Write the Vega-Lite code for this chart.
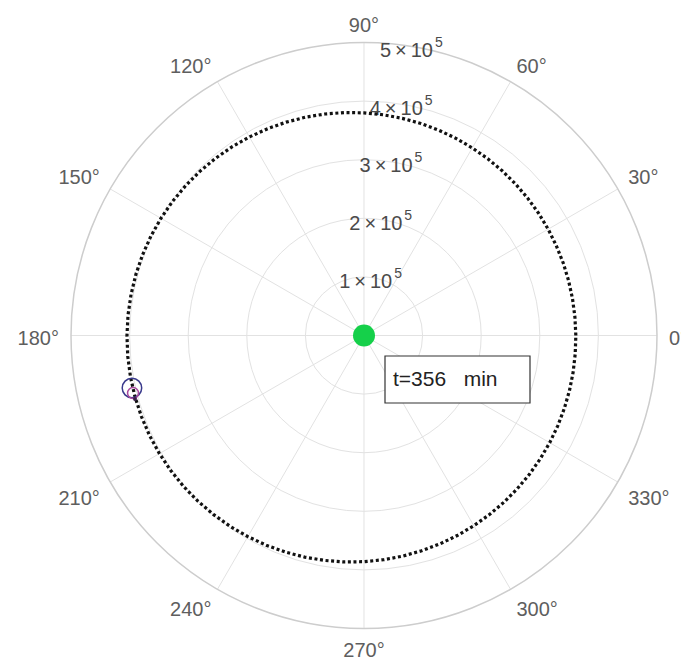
{
  "$schema": "https://vega.github.io/schema/vega-lite/v6.json",
  "width": 681,
  "height": 669,
  "padding": 0,
  "autosize": "none",
  "background": "white",
  "config": {"view": {"stroke": null}, "text": {"font": "Liberation Sans"}},
  "datasets": {
    "rings": [
      {"r": 100000, "m": "1\u2009×\u200910", "e": "5"},
      {"r": 200000, "m": "2\u2009×\u200910", "e": "5"},
      {"r": 300000, "m": "3\u2009×\u200910", "e": "5"},
      {"r": 400000, "m": "4\u2009×\u200910", "e": "5"},
      {"r": 500000, "m": "5\u2009×\u200910", "e": "5"}
    ],
    "angles": [
      {"a": 0, "t": "0°"}, {"a": 30, "t": "30°"}, {"a": 60, "t": "60°"},
      {"a": 90, "t": "90°"}, {"a": 120, "t": "120°"}, {"a": 150, "t": "150°"},
      {"a": 180, "t": "180°"}, {"a": 210, "t": "210°"}, {"a": 240, "t": "240°"},
      {"a": 270, "t": "270°"}, {"a": 300, "t": "300°"}, {"a": 330, "t": "330°"}
    ],
    "orbit": [
      {"a": 0, "r": 361500}, {"a": 5, "r": 361300}, {"a": 10, "r": 361300}, {"a": 15, "r": 361450},
      {"a": 20, "r": 361800}, {"a": 25, "r": 362200}, {"a": 30, "r": 362900}, {"a": 35, "r": 363700},
      {"a": 40, "r": 364600}, {"a": 45, "r": 365700}, {"a": 50, "r": 366900}, {"a": 55, "r": 368200},
      {"a": 60, "r": 369650}, {"a": 65, "r": 371200}, {"a": 70, "r": 372800}, {"a": 75, "r": 374500},
      {"a": 80, "r": 376300}, {"a": 85, "r": 378100}, {"a": 90, "r": 380000}, {"a": 95, "r": 381900},
      {"a": 100, "r": 383800}, {"a": 105, "r": 385700}, {"a": 110, "r": 387500}, {"a": 115, "r": 389400},
      {"a": 120, "r": 391150}, {"a": 125, "r": 392900}, {"a": 130, "r": 394500}, {"a": 135, "r": 396100},
      {"a": 140, "r": 397500}, {"a": 145, "r": 398900}, {"a": 150, "r": 400100}, {"a": 155, "r": 401200},
      {"a": 160, "r": 402200}, {"a": 165, "r": 403000}, {"a": 170, "r": 403650}, {"a": 175, "r": 404200},
      {"a": 180, "r": 404500}, {"a": 185, "r": 404700}, {"a": 190, "r": 404700}, {"a": 195, "r": 404550},
      {"a": 200, "r": 404200}, {"a": 205, "r": 403800}, {"a": 210, "r": 403100}, {"a": 215, "r": 402300},
      {"a": 220, "r": 401400}, {"a": 225, "r": 400300}, {"a": 230, "r": 399100}, {"a": 235, "r": 397800},
      {"a": 240, "r": 396350}, {"a": 245, "r": 394800}, {"a": 250, "r": 393200}, {"a": 255, "r": 391500},
      {"a": 260, "r": 389700}, {"a": 265, "r": 387900}, {"a": 270, "r": 386000}, {"a": 275, "r": 384100},
      {"a": 280, "r": 382200}, {"a": 285, "r": 380300}, {"a": 290, "r": 378500}, {"a": 295, "r": 376600},
      {"a": 300, "r": 374850}, {"a": 305, "r": 373100}, {"a": 310, "r": 371500}, {"a": 315, "r": 369900},
      {"a": 320, "r": 368500}, {"a": 325, "r": 367100}, {"a": 330, "r": 365900}, {"a": 335, "r": 364800},
      {"a": 340, "r": 363800}, {"a": 345, "r": 363000}, {"a": 350, "r": 362350}, {"a": 355, "r": 361800}
    ],
    "moon": [
      {"part": "outer", "a": 192.75, "r": 406000},
      {"part": "inner", "a": 194, "r": 406200},
      {"part": "dot", "a": 195.5, "r": 405500}
    ]
  },
  "layer": [
    {
      "data": {"name": "rings"},
      "transform": [{"filter": "datum.r < 500000"}, {"calculate": "0", "as": "c"}],
      "mark": {"type": "point", "shape": "circle", "filled": false, "stroke": "#e2e2e2", "strokeWidth": 1, "opacity": 1},
      "encoding": {
        "x": {"field": "c", "type": "quantitative", "scale": {"domain": [-621160, 540956], "nice": false, "zero": false}, "axis": null},
        "y": {"field": "c", "type": "quantitative", "scale": {"domain": [-569113, 572526], "nice": false, "zero": false}, "axis": null},
        "size": {"field": "r", "type": "quantitative", "legend": null, "scale": {"type": "pow", "exponent": 2, "domain": [0, 500000], "range": [0, 343396], "zero": true}}
      }
    },
    {
      "data": {"name": "angles"},
      "transform": [
        {"calculate": "0", "as": "c"},
        {"calculate": "500000*cos(datum.a*PI/180)", "as": "ex"},
        {"calculate": "500000*sin(datum.a*PI/180)", "as": "ey"}
      ],
      "mark": {"type": "rule", "stroke": "#e2e2e2", "strokeWidth": 1},
      "encoding": {
        "x": {"field": "c", "type": "quantitative", "scale": {"domain": [-621160, 540956], "nice": false, "zero": false}, "axis": null},
        "y": {"field": "c", "type": "quantitative", "scale": {"domain": [-569113, 572526], "nice": false, "zero": false}, "axis": null},
        "x2": {"field": "ex"},
        "y2": {"field": "ey"}
      }
    },
    {
      "data": {"name": "rings"},
      "transform": [{"filter": "datum.r == 500000"}, {"calculate": "0", "as": "c"}],
      "mark": {"type": "point", "shape": "circle", "filled": false, "stroke": "#cdcdcd", "strokeWidth": 1.5, "opacity": 1},
      "encoding": {
        "x": {"field": "c", "type": "quantitative", "scale": {"domain": [-621160, 540956], "nice": false, "zero": false}, "axis": null},
        "y": {"field": "c", "type": "quantitative", "scale": {"domain": [-569113, 572526], "nice": false, "zero": false}, "axis": null},
        "size": {"field": "r", "type": "quantitative", "legend": null, "scale": {"type": "pow", "exponent": 2, "domain": [0, 500000], "range": [0, 343396], "zero": true}}
      }
    },
    {
      "data": {"name": "angles"},
      "transform": [
        {"filter": "cos(datum.a*PI/180) > 0.1"},
        {"calculate": "520478*cos(datum.a*PI/180)", "as": "lx"},
        {"calculate": "520478*sin(datum.a*PI/180) + (sin(datum.a*PI/180) > 0.1 ? 13000 : (sin(datum.a*PI/180) < -0.1 ? -13000 : 0))", "as": "ly"}
      ],
      "mark": {"type": "text", "fontSize": 20, "color": "#5e5e5e", "align": "left", "baseline": "middle", "dy": 3},
      "encoding": {
        "x": {"field": "lx", "type": "quantitative", "scale": {"domain": [-621160, 540956], "nice": false, "zero": false}, "axis": null},
        "y": {"field": "ly", "type": "quantitative", "scale": {"domain": [-569113, 572526], "nice": false, "zero": false}, "axis": null},
        "text": {"field": "t"}
      }
    },
    {
      "data": {"name": "angles"},
      "transform": [
        {"filter": "cos(datum.a*PI/180) < -0.1"},
        {"calculate": "520478*cos(datum.a*PI/180)", "as": "lx"},
        {"calculate": "520478*sin(datum.a*PI/180) + (sin(datum.a*PI/180) > 0.1 ? 13000 : (sin(datum.a*PI/180) < -0.1 ? -13000 : 0))", "as": "ly"}
      ],
      "mark": {"type": "text", "fontSize": 20, "color": "#5e5e5e", "align": "right", "baseline": "middle", "dy": 3},
      "encoding": {
        "x": {"field": "lx", "type": "quantitative", "scale": {"domain": [-621160, 540956], "nice": false, "zero": false}, "axis": null},
        "y": {"field": "ly", "type": "quantitative", "scale": {"domain": [-569113, 572526], "nice": false, "zero": false}, "axis": null},
        "text": {"field": "t"}
      }
    },
    {
      "data": {"name": "angles"},
      "transform": [
        {"filter": "abs(cos(datum.a*PI/180)) <= 0.1"},
        {"calculate": "520478*cos(datum.a*PI/180)", "as": "lx"},
        {"calculate": "520478*sin(datum.a*PI/180) + (sin(datum.a*PI/180) > 0.1 ? 13000 : (sin(datum.a*PI/180) < -0.1 ? -13000 : 0))", "as": "ly"}
      ],
      "mark": {"type": "text", "fontSize": 20, "color": "#5e5e5e", "align": "center", "baseline": "middle", "dy": 3},
      "encoding": {
        "x": {"field": "lx", "type": "quantitative", "scale": {"domain": [-621160, 540956], "nice": false, "zero": false}, "axis": null},
        "y": {"field": "ly", "type": "quantitative", "scale": {"domain": [-569113, 572526], "nice": false, "zero": false}, "axis": null},
        "text": {"field": "t"}
      }
    },
    {
      "data": {"name": "rings"},
      "transform": [
        {"calculate": "datum.r*cos(80*PI/180)", "as": "lx"},
        {"calculate": "datum.r*sin(80*PI/180)", "as": "ly"}
      ],
      "mark": {"type": "text", "fontSize": 20, "color": "#4a4a4a", "align": "left", "baseline": "middle", "dy": 4, "dx": -35},
      "encoding": {
        "x": {"field": "lx", "type": "quantitative", "scale": {"domain": [-621160, 540956], "nice": false, "zero": false}, "axis": null},
        "y": {"field": "ly", "type": "quantitative", "scale": {"domain": [-569113, 572526], "nice": false, "zero": false}, "axis": null},
        "text": {"field": "m"}
      }
    },
    {
      "data": {"name": "rings"},
      "transform": [
        {"calculate": "datum.r*cos(80*PI/180)", "as": "lx"},
        {"calculate": "datum.r*sin(80*PI/180)", "as": "ly"}
      ],
      "mark": {"type": "text", "fontSize": 14, "color": "#4a4a4a", "align": "left", "baseline": "middle", "dy": -4, "dx": 20},
      "encoding": {
        "x": {"field": "lx", "type": "quantitative", "scale": {"domain": [-621160, 540956], "nice": false, "zero": false}, "axis": null},
        "y": {"field": "ly", "type": "quantitative", "scale": {"domain": [-569113, 572526], "nice": false, "zero": false}, "axis": null},
        "text": {"field": "e"}
      }
    },
    {
      "data": {"name": "orbit"},
      "transform": [
        {"calculate": "datum.r*cos(datum.a*PI/180)", "as": "px"},
        {"calculate": "datum.r*sin(datum.a*PI/180)", "as": "py"}
      ],
      "mark": {"type": "line", "interpolate": "linear-closed", "stroke": "#111111", "strokeWidth": 3.2, "strokeDash": [3, 2.6]},
      "encoding": {
        "x": {"field": "px", "type": "quantitative", "scale": {"domain": [-621160, 540956], "nice": false, "zero": false}, "axis": null},
        "y": {"field": "py", "type": "quantitative", "scale": {"domain": [-569113, 572526], "nice": false, "zero": false}, "axis": null},
        "order": {"field": "a", "type": "quantitative"}
      }
    },
    {
      "data": {"values": [{"body": "earth", "x": 0, "y": 0}]},
      "mark": {"type": "point", "shape": "circle", "filled": true, "fill": "#15d04a", "size": 484, "opacity": 1},
      "encoding": {
        "x": {"field": "x", "type": "quantitative", "scale": {"domain": [-621160, 540956], "nice": false, "zero": false}, "axis": null},
        "y": {"field": "y", "type": "quantitative", "scale": {"domain": [-569113, 572526], "nice": false, "zero": false}, "axis": null}
      }
    },
    {
      "data": {"name": "moon"},
      "transform": [
        {"filter": "datum.part == 'outer'"},
        {"calculate": "datum.r*cos(datum.a*PI/180)", "as": "px"},
        {"calculate": "datum.r*sin(datum.a*PI/180)", "as": "py"}
      ],
      "mark": {"type": "point", "shape": "circle", "filled": false, "stroke": "#3a3a8c", "strokeWidth": 1.5, "size": 380, "opacity": 1},
      "encoding": {
        "x": {"field": "px", "type": "quantitative", "scale": {"domain": [-621160, 540956], "nice": false, "zero": false}, "axis": null},
        "y": {"field": "py", "type": "quantitative", "scale": {"domain": [-569113, 572526], "nice": false, "zero": false}, "axis": null}
      }
    },
    {
      "data": {"name": "moon"},
      "transform": [
        {"filter": "datum.part == 'inner'"},
        {"calculate": "datum.r*cos(datum.a*PI/180)", "as": "px"},
        {"calculate": "datum.r*sin(datum.a*PI/180)", "as": "py"}
      ],
      "mark": {"type": "point", "shape": "circle", "filled": false, "stroke": "#a8489e", "strokeWidth": 1.5, "size": 121, "opacity": 1},
      "encoding": {
        "x": {"field": "px", "type": "quantitative", "scale": {"domain": [-621160, 540956], "nice": false, "zero": false}, "axis": null},
        "y": {"field": "py", "type": "quantitative", "scale": {"domain": [-569113, 572526], "nice": false, "zero": false}, "axis": null}
      }
    },
    {
      "data": {"name": "moon"},
      "transform": [
        {"filter": "datum.part == 'dot'"},
        {"calculate": "datum.r*cos(datum.a*PI/180)", "as": "px"},
        {"calculate": "datum.r*sin(datum.a*PI/180)", "as": "py"}
      ],
      "mark": {"type": "point", "shape": "circle", "filled": true, "fill": "#3a1f4a", "size": 16, "opacity": 1},
      "encoding": {
        "x": {"field": "px", "type": "quantitative", "scale": {"domain": [-621160, 540956], "nice": false, "zero": false}, "axis": null},
        "y": {"field": "py", "type": "quantitative", "scale": {"domain": [-569113, 572526], "nice": false, "zero": false}, "axis": null}
      }
    },
    {
      "data": {"values": [{"label": "t=356 min", "x1": 35836, "x2": 283276, "y1": -34983, "y2": -115188}]},
      "mark": {"type": "rect", "fill": "white", "stroke": "#333333", "strokeWidth": 1.2},
      "encoding": {
        "x": {"field": "x1", "type": "quantitative", "scale": {"domain": [-621160, 540956], "nice": false, "zero": false}, "axis": null},
        "x2": {"field": "x2"},
        "y": {"field": "y1", "type": "quantitative", "scale": {"domain": [-569113, 572526], "nice": false, "zero": false}, "axis": null},
        "y2": {"field": "y2"}
      }
    },
    {
      "data": {"values": [{"label": "t=356\u00a0\u00a0\u00a0min", "x": 49488, "y": -75939}]},
      "mark": {"type": "text", "fontSize": 21, "color": "#222222", "align": "left", "baseline": "middle"},
      "encoding": {
        "x": {"field": "x", "type": "quantitative", "scale": {"domain": [-621160, 540956], "nice": false, "zero": false}, "axis": null},
        "y": {"field": "y", "type": "quantitative", "scale": {"domain": [-569113, 572526], "nice": false, "zero": false}, "axis": null},
        "text": {"field": "label"}
      }
    }
  ]
}
